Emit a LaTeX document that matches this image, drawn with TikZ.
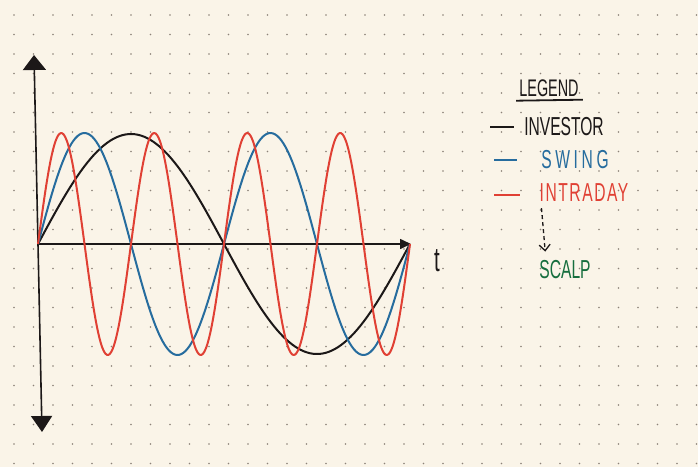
\documentclass[tikz,border=0pt]{standalone}
\usepackage{fontspec}
\newfontfamily\handfont[FakeStretch=0.6]{Liberation Sans}
\usetikzlibrary{arrows.meta}
\definecolor{paper}{RGB}{250,244,232}
\definecolor{dotgray}{RGB}{140,130,120}
\definecolor{penred}{RGB}{224,64,52}
\definecolor{penblue}{RGB}{38,108,158}
\definecolor{penblack}{RGB}{28,24,24}
\definecolor{pengreen}{RGB}{22,110,62}

\begin{document}
\begin{tikzpicture}[
    x=1pt, y=-1pt,
    curve/.style={line width=2pt, line join=round},
    axis/.style={line width=1.6pt, penblack},
    key/.style={line width=1.8pt},
    lbl/.style={font=\handfont\fontsize{26}{28}\selectfont, inner sep=1pt}
  ]
  \fill[paper] (0,0) rectangle (698,467);
  \useasboundingbox (0,0) rectangle (698,467);
  % dotted paper
  \foreach \i in {0,...,35}
    \foreach \j in {0,...,23}
      \fill[dotgray] ({14+19.5*\i},{15+19.5*\j}) circle (0.8);

  % axes
  \coordinate (O) at (38,244);
  \coordinate (ytop) at (34,55);
  \coordinate (ybot) at (42,432);
  \coordinate (tend) at (411,244);
  \draw[axis, -{Triangle[width=23pt,length=15pt]}] (O) -- (ytop);
  \draw[axis, -{Triangle[width=21pt,length=16pt]}] (O) -- (ybot);
  \draw[axis, -{Triangle[width=10pt,length=11pt]}] (O) -- (tend);
  \node[font=\handfont\fontsize{34}{36}\selectfont, penblack] (tlabel) at (437,261) {t};

  % waves
  \draw[curve, penblack] plot[domain=0:360, samples=120, smooth] ({38+1.0333*\x}, {244-110*sin(\x)});
  \draw[curve, penblue] plot[domain=0:360, samples=180, smooth] ({38+1.0333*\x}, {244-111*sin(2*\x)});
  \draw[curve, penred] plot[domain=0:360, samples=260, smooth] ({38+1.0333*\x}, {244-111*sin(4*\x)});

  % legend
  \node[lbl, penblack, font=\handfont\fontsize{24}{26}\selectfont] (legend) at (549,88) {LEGEND};
  \draw[key, penblack] ([xshift=-2pt,yshift=-3pt]legend.south west) -- ([xshift=3pt,yshift=-2pt]legend.south east);
  \node[lbl, penblack] (investor) at (564,127) {INVESTOR};
  \node[lbl, penblue, font=\handfont\addfontfeatures{LetterSpace=14}\fontsize{26}{28}\selectfont] (swing) at (575,160) {SWING};
  \node[lbl, penred, font=\handfont\addfontfeatures{LetterSpace=6}\fontsize{26}{28}\selectfont] (intraday) at (584,193) {INTRADAY};
  \node[lbl, pengreen] (scalp) at (565,270) {SCALP};
  \draw[key, penblack] ([xshift=-33pt]investor.west) -- ([xshift=-9pt]investor.west);
  \draw[key, penblue] ([xshift=-46pt]swing.west) -- ([xshift=-23pt]swing.west);
  \draw[key, penred] ([xshift=-44pt,yshift=-2pt]intraday.west) -- ([xshift=-18pt,yshift=-2pt]intraday.west);
  \draw[line width=1.3pt, penblack, dash pattern=on 4pt off 3pt, -{Straight Barb[length=6pt,width=11pt]}]
    ([xshift=3pt,yshift=-5pt]intraday.south west) -- ([xshift=7pt,yshift=8pt]scalp.north west);
\end{tikzpicture}
\end{document}
